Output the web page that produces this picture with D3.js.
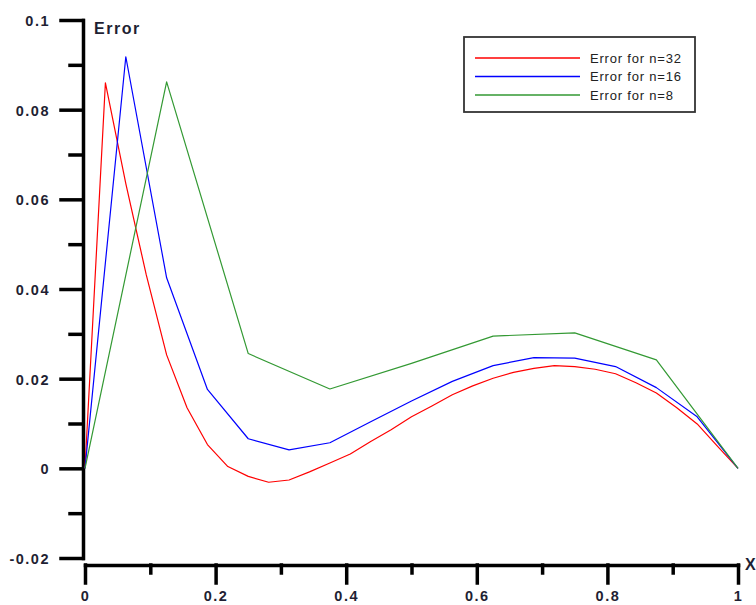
<!DOCTYPE html>
<html lang="en">
<head>
    <meta charset="UTF-8">
    <title>Error for n=32, 16, 8</title>
    <script src="https://d3js.org/d3.v7.min.js"></script>
    <style>
        body { margin: 0; background: #fff; font-family: Arial, "Liberation Sans", sans-serif; }
        .tick-label { font-size: 14.5px; font-weight: bold; fill: #1f1f33; letter-spacing: 1.5px; }
        .axis-title { font-size: 16px; font-weight: bold; fill: #1f1f33; letter-spacing: 1.5px; }
        .legend-text { font-size: 13px; fill: #222; letter-spacing: 0.8px; }
    </style>
</head>
<body>
    <svg width="756" height="605"></svg>
    <script>
        // error values
        const err32 = [0, 0.0860, 0.0635, 0.0432, 0.0253, 0.0135, 0.0053, 0.0004,
                       -0.0018, -0.0031, -0.0026, -0.0008, 0.0012, 0.0032, 0.0060, 0.0086,
                       0.0115, 0.0139, 0.0164, 0.0184, 0.0201, 0.0214, 0.0223, 0.0229,
                       0.0227, 0.0221, 0.0211, 0.0191, 0.0168, 0.0135, 0.0099, 0.0049, 0];
        const err16 = [0, 0.0918, 0.0425, 0.0176, 0.0066, 0.0041, 0.0057, 0.0104,
                       0.0150, 0.0194, 0.0229, 0.0247, 0.0246, 0.0227, 0.0180, 0.0115, 0];
        const err8 = [0, 0.0862, 0.0256, 0.0177, 0.0234, 0.0295, 0.0302, 0.0242, 0];

        const xTicks = [0, 0.2, 0.4, 0.6, 0.8, 1];
        const xTickLabels = ["0", "0.2", "0.4", "0.6", "0.8", "1"];
        const xMinor = [0.1, 0.3, 0.5, 0.7, 0.9];
        const yTicks = [-0.02, 0, 0.02, 0.04, 0.06, 0.08, 0.1];
        const yTickLabels = ["-0.02", "0", "0.02", "0.04", "0.06", "0.08", "0.1"];
        const yMinor = [-0.01, 0.01, 0.03, 0.05, 0.07, 0.09];

        const seriesNames = ["Error for n=32", "Error for n=16", "Error for n=8"];
        const seriesColors = ["#ff0000", "#0000ff", "#339933"];
        const series = [err32, err16, err8];

        const svg = d3.select("svg");

        const x = d3.scaleLinear().domain([0, 1]).range([85, 738]);
        const y = d3.scaleLinear().domain([-0.02, 0.1]).range([558, 20]);

        const axisColor = "#000";

        // y axis (major + minor ticks)
        const yAxis = svg.append("g")
            .attr("transform", "translate(83,0)")
            .call(d3.axisLeft(y).tickValues(yTicks).tickSize(22).tickSizeOuter(0)
                .tickFormat((d, i) => yTickLabels[i]));
        svg.append("g")
            .attr("transform", "translate(83,0)")
            .call(d3.axisLeft(y).tickValues(yMinor).tickSize(13).tickSizeOuter(0).tickFormat(""))
            .select(".domain").remove();

        // x axis (major + minor ticks)
        const xAxis = svg.append("g")
            .attr("transform", "translate(0,565)")
            .call(d3.axisBottom(x).tickValues(xTicks).tickSize(18).tickSizeOuter(0)
                .tickFormat((d, i) => xTickLabels[i]));
        svg.append("g")
            .attr("transform", "translate(0,565)")
            .call(d3.axisBottom(x).tickValues(xMinor).tickSize(8).tickSizeOuter(0).tickFormat(""))
            .select(".domain").remove();

        svg.selectAll(".domain, .tick line")
            .attr("stroke", axisColor)
            .attr("stroke-width", 3.5)
            .attr("stroke-linecap", "square");

        yAxis.selectAll(".tick text")
            .attr("class", "tick-label")
            .attr("x", -33)
            .attr("dy", "0.38em")
            .attr("fill", null);
        xAxis.selectAll(".tick text")
            .attr("class", "tick-label")
            .attr("y", 36)
            .attr("dy", 0)
            .attr("fill", null);
        svg.selectAll(".tick text").attr("font-size", null).attr("font-family", null);

        // axis titles
        svg.append("text").attr("class", "axis-title")
            .attr("x", 94).attr("y", 34).text("Error");
        svg.append("text").attr("class", "axis-title")
            .attr("x", 745).attr("y", 570).text("X");

        // curves
        const line = d3.line()
            .x((d, i, arr) => x(i / (arr.length - 1)))
            .y(d => y(d));

        series.forEach((s, k) => {
            svg.append("path")
                .datum(s)
                .attr("fill", "none")
                .attr("stroke", seriesColors[k])
                .attr("stroke-width", 1.2)
                .attr("stroke-linejoin", "round")
                .attr("d", line);
        });

        // legend
        const legend = svg.append("g");
        legend.append("rect")
            .attr("x", 464).attr("y", 37)
            .attr("width", 231).attr("height", 75)
            .attr("fill", "#fff")
            .attr("stroke", "#333")
            .attr("stroke-width", 1.8);
        const rowY = [58, 76.5, 95];
        seriesNames.forEach((name, k) => {
            legend.append("line")
                .attr("x1", 475).attr("x2", 580)
                .attr("y1", rowY[k]).attr("y2", rowY[k])
                .attr("stroke", seriesColors[k])
                .attr("stroke-width", 1.3);
            legend.append("text")
                .attr("class", "legend-text")
                .attr("x", 590).attr("y", rowY[k] + 4.5)
                .text(name);
        });
    </script>
</body>
</html>
